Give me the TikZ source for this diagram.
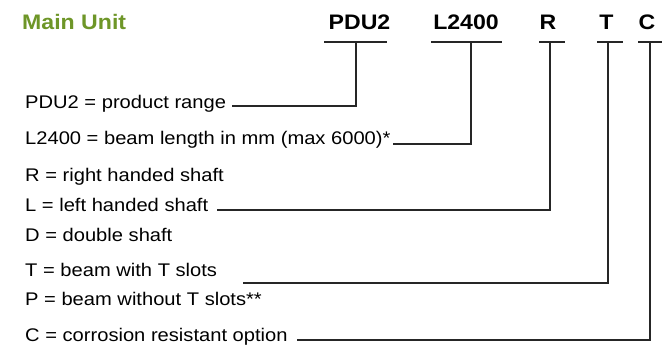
\documentclass[tikz,border=0pt]{standalone}
\usepackage{fontspec}
\setmainfont{Liberation Sans}[FakeStretch=1.1]
\usetikzlibrary{positioning}
\definecolor{unitgreen}{RGB}{110,150,40}
\begin{document}
\begin{tikzpicture}[x=1pt,y=-1pt,
    code/.style={font=\fontsize{21}{24}\selectfont\bfseries, anchor=base, inner sep=0pt},
    desc/.style={font=\fontsize{18.3}{21}\selectfont, anchor=base west, inner sep=0pt},
    lead/.style={line width=1.5pt, black!85}]
  \useasboundingbox (0,0) rectangle (662,348);
  \node [code, text=unitgreen, anchor=base west] (unit) at (22,29) {Main Unit};
  \node [code] (cPDU) at (359.5,29) {PDU2};
  \node [code] (cLen) at (466,29) {L2400};
  \node [code] (cR) at (548,29) {R};
  \node [code] (cT) at (606.5,29) {T};
  \node [code] (cC) at (647,29) {C};
  \draw [lead] (324,42) -- (387,42);
  \draw [lead] (431,42) -- (502,42);
  \draw [lead] (539,42) -- (565,42);
  \draw [lead] (597,42) -- (623,42);
  \draw [lead] (638,42) -- (662,42);
  \coordinate (uPDU) at (356,42);
  \coordinate (uLen) at (471,42);
  \coordinate (uR) at (550,42);
  \coordinate (uT) at (608,42);
  \coordinate (uC) at (650,42);
  \node [desc] (dPDU) at (25,108) {PDU2 = product range};
  \node [desc] (dLen) at (25,144) {L2400 = beam length in mm (max 6000)*};
  \node [desc] (dR) at (25,181) {R = right handed shaft};
  \node [desc] (dL) at (25,211) {L = left handed shaft};
  \node [desc] (dD) at (25,241) {D = double shaft};
  \node [desc] (dT) at (25,276) {T = beam with T slots};
  \node [desc] (dP) at (25,305) {P = beam without T slots**};
  \node [desc] (dC) at (25,341) {C = corrosion resistant option};
  \coordinate (ePDU) at (232,106);
  \coordinate (eLen) at (393,144);
  \coordinate (eR) at (217,210);
  \coordinate (eT) at (243,283);
  \coordinate (eC) at (297,340);
  \draw [lead] (uPDU) |- (ePDU);
  \draw [lead] (uLen) |- (eLen);
  \draw [lead] (uR) |- (eR);
  \draw [lead] (uT) |- (eT);
  \draw [lead] (uC) |- (eC);
\end{tikzpicture}
\end{document}
